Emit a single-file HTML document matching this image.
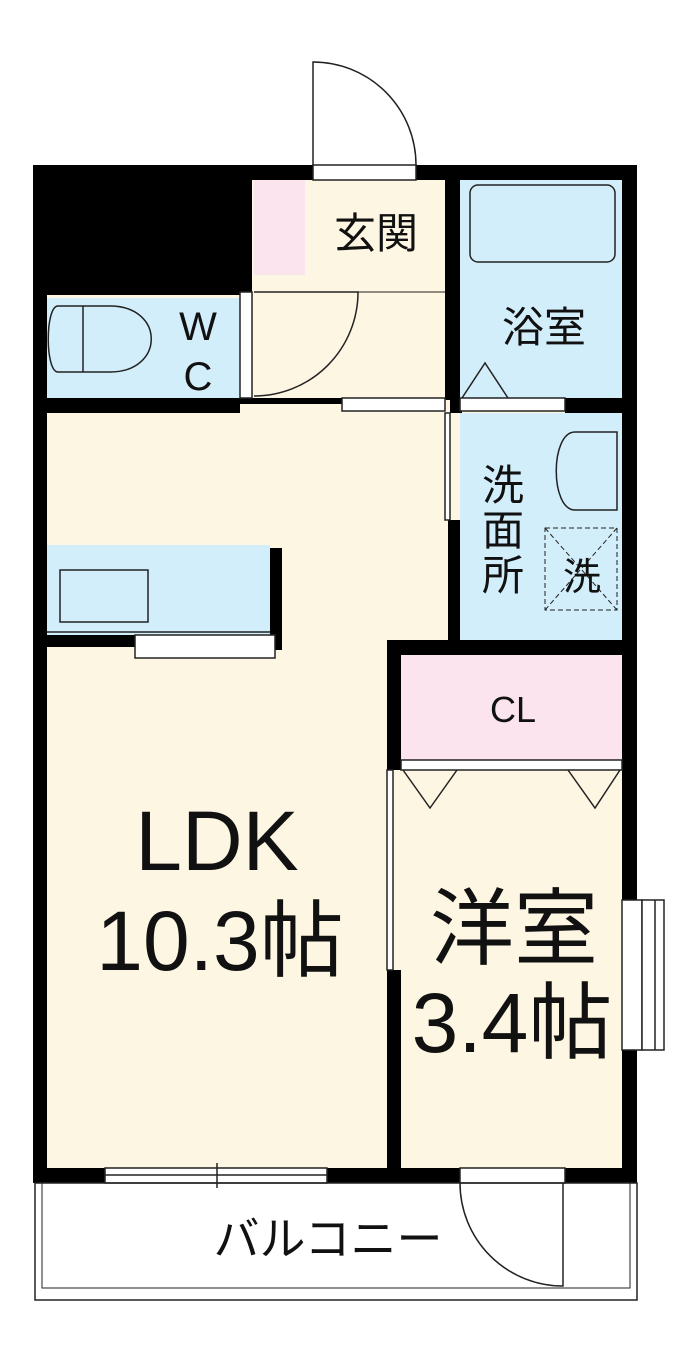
<!DOCTYPE html>
<html><head><meta charset="utf-8"><style>
html,body{margin:0;padding:0;background:#fff;width:700px;height:1355px;overflow:hidden}
text{font-family:"Liberation Sans","Noto Sans CJK JP",sans-serif;fill:#111}
</style></head><body>
<svg width="700" height="1355" viewBox="0 0 700 1355" xmlns="http://www.w3.org/2000/svg">
<rect x="40" y="170" width="590" height="1005" fill="#fdf6e3"/>
<rect x="254" y="180" width="51" height="95" fill="#fce4ee"/>
<rect x="47" y="298" width="193" height="100" fill="#d2eefa"/>
<rect x="460" y="180" width="162" height="220" fill="#d2eefa"/>
<rect x="460" y="413" width="162" height="227" fill="#d2eefa"/>
<rect x="401" y="655" width="221" height="105" fill="#fce4ee"/>
<rect x="47" y="545" width="223" height="90" fill="#d2eefa"/>
<g fill="#000">
<rect x="33" y="165" width="219" height="130"/>
<rect x="33" y="165" width="14" height="1018"/>
<rect x="622" y="165" width="15" height="1018"/>
<rect x="33" y="165" width="280" height="15"/>
<rect x="416" y="165" width="221" height="15"/>
<rect x="445" y="165" width="15" height="235"/>
<rect x="33" y="398" width="207" height="15"/>
<rect x="240" y="398" width="102" height="6"/>
<rect x="565" y="398" width="72" height="15"/>
<rect x="450" y="398" width="12" height="15"/>
<rect x="448" y="520" width="12" height="120"/>
<rect x="387" y="640" width="250" height="15"/>
<rect x="387" y="640" width="14" height="130"/>
<rect x="387" y="970" width="14" height="213"/>
<rect x="33" y="1168" width="72" height="15"/>
<rect x="327" y="1168" width="133" height="15"/>
<rect x="565" y="1168" width="72" height="15"/>
<rect x="47" y="635" width="90" height="12"/>
<rect x="270" y="548" width="12" height="102"/>
<rect x="622" y="755" width="15" height="15"/>
</g>
<g fill="none" stroke="#222" stroke-width="1.5">
<rect x="313" y="165" width="103" height="15" fill="#fff"/>
<path d="M313,165 V62 A103,103 0 0 1 416,165"/>
<rect x="240" y="292" width="12" height="106" fill="#fff"/>
<path d="M254,292 H358 A104,104 0 0 1 254,396"/>
<line x1="254" y1="292" x2="445" y2="292" stroke-width="1"/>
<rect x="342" y="398" width="103" height="13" fill="#fff"/>
<rect x="445" y="413" width="5" height="107" fill="#fff"/>
<rect x="460" y="398" width="105" height="13" fill="#fff"/>
<path d="M462,398 L485,363 L508,398"/>
<rect x="401" y="760" width="221" height="10" fill="#fff"/>
<path d="M403,770 L430,808 L457,770 M568,770 L595,808 L620,770"/>
<rect x="387" y="770" width="6" height="200" fill="#fff"/>
<rect x="105" y="1168" width="222" height="15" fill="#fff"/>
<line x1="105" y1="1175" x2="327" y2="1175"/>
<line x1="217" y1="1163" x2="217" y2="1188"/>
<rect x="460" y="1168" width="105" height="15" fill="#fff"/>
<path d="M460,1183 A103,103 0 0 0 563,1286 V1183"/>
<rect x="35" y="1183" width="602" height="117" fill="none"/>
<rect x="42" y="1183" width="588" height="105" fill="none" stroke-width="1"/>
<rect x="622" y="900" width="20" height="150" fill="#fff"/>
<rect x="642" y="900" width="22" height="150" fill="#fff"/>
<line x1="655" y1="900" x2="655" y2="1050"/>
<rect x="470" y="185" width="145" height="77" rx="8" fill="#d2eefa"/>
<rect x="135" y="635" width="140" height="23" fill="#fff"/>
<rect x="60" y="570" width="88" height="52" fill="#d2eefa"/>
<line x1="47" y1="632" x2="270" y2="632"/>
<path d="M58,306 H110 C165,306 165,372 110,372 H58 C45,372 45,306 58,306Z" fill="#d2eefa"/>
<line x1="83" y1="306" x2="83" y2="372"/>
<path d="M617,432 H575 C550,432 550,510 575,510 H617Z" fill="#d2eefa"/>
<rect x="545" y="528" width="72" height="82" stroke-dasharray="5,3" stroke-width="1"/>
<path d="M545,528 L617,610 M617,528 L545,610" stroke-dasharray="5,3" stroke-width="1"/>
</g>
<text x="376" y="248" font-size="42" text-anchor="middle">玄関</text>
<text x="544" y="342" font-size="42" text-anchor="middle">浴室</text>
<text x="198" y="340" font-size="40" text-anchor="middle">W</text>
<text x="198" y="390" font-size="40" text-anchor="middle">C</text>
<text x="503" y="500" font-size="42" text-anchor="middle">洗</text>
<text x="503" y="545" font-size="42" text-anchor="middle">面</text>
<text x="503" y="590" font-size="42" text-anchor="middle">所</text>
<text x="582" y="590" font-size="38" text-anchor="middle">洗</text>
<text x="513" y="722" font-size="36" text-anchor="middle">CL</text>
<text x="217" y="870" font-size="84" text-anchor="middle">LDK</text>
<text x="220" y="970" font-size="84" text-anchor="middle">10.3帖</text>
<text x="514" y="958" font-size="84" text-anchor="middle">洋室</text>
<text x="512" y="1052" font-size="84" text-anchor="middle">3.4帖</text>
<text x="328" y="1255" font-size="46" text-anchor="middle">バルコニー</text>
</svg>
</body></html>
